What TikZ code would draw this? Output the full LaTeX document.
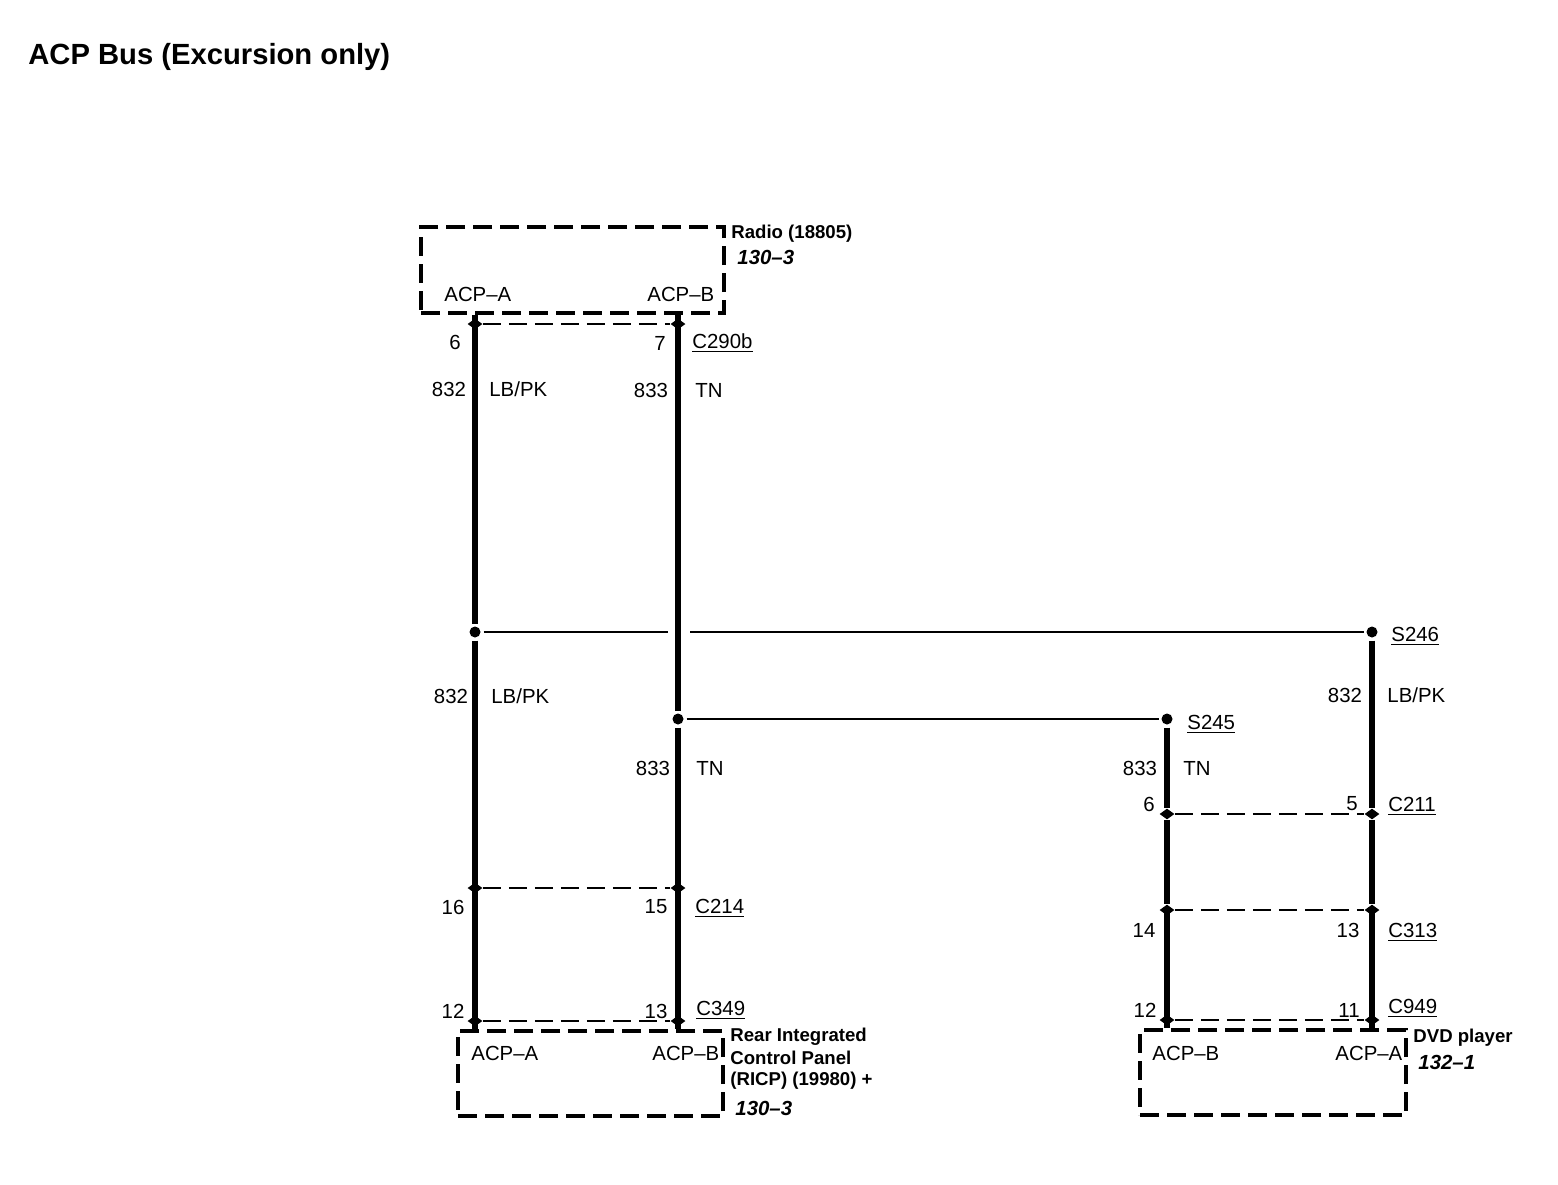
\documentclass[tikz,border=0pt]{standalone}
\usepackage{fontspec}
\setmainfont{Liberation Sans}
\usetikzlibrary{shapes.geometric}
\tikzset{
  wire/.style={line width=3.2pt},
  thinwire/.style={line width=1.3pt},
  conn/.style={line width=1.3pt,dash pattern=on 9pt off 4pt},
  modbox/.style={draw,line width=2pt,dash pattern=on 9.5pt off 4pt,inner sep=0pt},
  junction/.style={circle,fill=black,inner sep=0pt,minimum size=5.5pt,outer sep=1.5pt},
  pinnode/.style={diamond,fill=black,inner sep=0pt,minimum width=7.5pt,minimum height=5.5pt},
  lab/.style={inner sep=0pt,yshift=-0.5pt,font=\fontsize{10.2}{12}\selectfont},
  llab/.style={lab,anchor=west},
  ulab/.style={lab,anchor=west,yshift=-1.2pt},
  blab/.style={inner sep=0pt,anchor=west,yshift=-1pt,font=\fontsize{9.3}{11}\selectfont\bfseries},
  ilab/.style={inner sep=0pt,anchor=west,font=\fontsize{10.2}{12}\selectfont\bfseries\itshape}
}
\begin{document}
\begin{tikzpicture}[x=0.5pt,y=-0.5pt]
\fill[white] (0,0) rectangle (1558,1184);
\useasboundingbox (0,0) rectangle (1558,1184);
% title
\node[inner sep=0pt,anchor=west,yshift=-1.5pt,font=\fontsize{14.6}{17}\selectfont\bfseries] (title) at (28,54) {ACP Bus (Excursion only)};
% module boxes
\node[modbox,minimum width=151.5pt,minimum height=43pt] (radio) at (572.5,270) {};
\node[modbox,minimum width=132.5pt,minimum height=42.5pt] (ricp) at (590.5,1073.5) {};
\node[modbox,minimum width=133pt,minimum height=42.5pt] (dvd) at (1273,1072.5) {};
% connector pins
\node[pinnode] (a290) at (475,324) {};
\node[pinnode] (b290) at (678,324) {};
\node[pinnode] (a214) at (475,888) {};
\node[pinnode] (b214) at (678,888) {};
\node[pinnode] (a349) at (475,1021) {};
\node[pinnode] (b349) at (678,1021) {};
\node[pinnode] (b211) at (1167,814) {};
\node[pinnode] (a211) at (1372,814) {};
\node[pinnode] (b313) at (1167,910) {};
\node[pinnode] (a313) at (1372,910) {};
\node[pinnode] (b949) at (1167,1020) {};
\node[pinnode] (a949) at (1372,1020) {};
% splices
\node[junction] (jA) at (475,632) {};
\node[junction] (jB) at (678,719) {};
\node[junction] (s246) at (1372,632) {};
\node[junction] (s245) at (1167,719) {};
\coordinate (gapL) at (668,632);
\coordinate (gapR) at (690,632);
% thick wires
\draw[wire] (a290 |- radio.south) -- (a290.center) -- (jA);
\draw[wire] (jA) -- (a214.center) -- (a349.center) -- (a349 |- ricp.north);
\draw[wire] (b290 |- radio.south) -- (b290.center) -- (jB);
\draw[wire] (jB) -- (b214.center) -- (b349.center) -- (b349 |- ricp.north);
\draw[wire] (s245) -- (b211);
\draw[wire] (b211) -- (b313);
\draw[wire] (b313.center) -- (b949.center) -- (b949 |- dvd.north);
\draw[wire] (s246) -- (a211);
\draw[wire] (a211) -- (a313);
\draw[wire] (a313.center) -- (a949.center) -- (a949 |- dvd.north);
% thin wires
\draw[thinwire] (jA) -- (gapL);
\draw[thinwire] (gapR) -- (s246);
\draw[thinwire] (jB) -- (s245);
% connector dashes
\draw[conn] (a290) -- (b290);
\draw[conn] (a214) -- (b214);
\draw[conn] (a349) -- (b349);
\draw[conn] (b211) -- (a211);
\draw[conn] (b313) -- (a313);
\draw[conn] (b949) -- (a949);
% radio labels
\node[blab] (tRadio) at (731,232) {Radio (18805)};
\node[ilab] (tRadioRef) at (737,257) {130–3};
\node[llab] (rA) at (444,293) {ACP–A};
\node[llab] (rB) at (647,293) {ACP–B};
\node[lab] (n6) at (455,341) {6};
\node[lab] (n7) at (660,342) {7};
\node[ulab] (c290) at (692,340) {\underline{C290b}};
\node[lab] (w832a) at (449,388) {832};
\node[llab] (colA) at (489,388) {LB/PK};
\node[lab] (w833a) at (651,389) {833};
\node[llab] (colB) at (695,389) {TN};
% middle labels
\node[lab] (w832b) at (451,695) {832};
\node[llab] (colA2) at (491,695) {LB/PK};
\node[lab] (w833b) at (653,767) {833};
\node[llab] (colB2) at (696,767) {TN};
\node[lab] (n16) at (453,906) {16};
\node[lab] (n15) at (656,906) {15};
\node[ulab] (c214) at (695,905) {\underline{C214}};
\node[lab] (n12a) at (453,1010) {12};
\node[lab] (n13a) at (656,1010) {13};
\node[ulab] (c349) at (696,1007) {\underline{C349}};
% RICP labels
\node[llab] (pA) at (471,1052) {ACP–A};
\node[llab] (pB) at (652,1052) {ACP–B};
\node[blab] (tR1) at (730,1035) {Rear Integrated};
\node[blab] (tR2) at (730,1056) {Control Panel};
\node[blab] (tR3) at (730,1079) {(RICP) (19980) +};
\node[ilab] (tRref) at (735,1108) {130–3};
% right labels
\node[ulab] (ts246) at (1391,633) {\underline{S246}};
\node[lab] (w832c) at (1345,694) {832};
\node[llab] (colA3) at (1387,694) {LB/PK};
\node[ulab] (ts245) at (1187,721) {\underline{S245}};
\node[lab] (w833c) at (1140,767) {833};
\node[llab] (colB3) at (1183,767) {TN};
\node[lab] (n6b) at (1149,803) {6};
\node[lab] (n5) at (1352,803) {5};
\node[ulab] (c211) at (1388,803) {\underline{C211}};
\node[lab] (n14) at (1144,929) {14};
\node[lab] (n13b) at (1348,929) {13};
\node[ulab] (c313) at (1388,929) {\underline{C313}};
\node[lab] (n12b) at (1145,1009) {12};
\node[lab] (n11) at (1349,1009) {11};
\node[ulab] (c949) at (1388,1005) {\underline{C949}};
% DVD labels
\node[llab] (dB) at (1152,1052) {ACP–B};
\node[llab] (dA) at (1335,1052) {ACP–A};
\node[blab] (tDvd) at (1413,1036) {DVD player};
\node[ilab] (tDvdRef) at (1418,1062) {132–1};
\end{tikzpicture}
\end{document}
